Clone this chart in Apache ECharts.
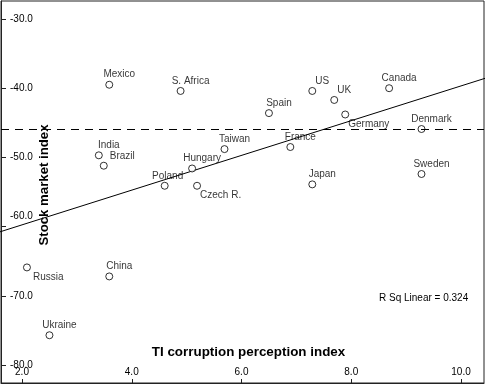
<!DOCTYPE html>
<html>
<head>
<meta charset="utf-8">
<script src="https://cdn.jsdelivr.net/npm/echarts@6/dist/echarts.min.js"></script>
<style>html,body{margin:0;padding:0;background:#fff}#c{width:485px;height:385px}</style>
</head>
<body>
<div id="c"></div>
<script>
const countries = ['Mexico','S. Africa','India','Brazil','Hungary','Poland','Czech R.','US','UK','Germany','Spain','Taiwan','France','Japan','Canada','Denmark','Sweden','Russia','China','Ukraine'];
const corruptionIndex = [3.59,4.89,3.40,3.49,5.10,4.60,5.19,7.29,7.69,7.89,6.50,5.69,6.89,7.29,8.69,9.28,9.28,2.09,3.59,2.50];
const stockIndex = [-39.5,-40.4,-49.7,-51.2,-51.6,-54.1,-54.1,-40.4,-41.7,-43.8,-43.6,-48.8,-48.5,-53.9,-40.0,-45.9,-52.4,-65.9,-67.2,-75.7];
const xTicks = [2,4,6,8,10];
const yTicks = [-80,-70,-60,-50,-40,-30];
const fitIntercept = -64.77;
const fitSlope = 2.51;
const fitXs = [0, 12];
const referenceY = -45.9;
const rSqText = 'R Sq Linear = 0.324';
const xTitle = 'TI corruption perception index';
const yTitle = 'Stock market index';

const FONT = '"Liberation Sans", Arial, sans-serif';
const labelPlace = {
  'Brazil': {align:'left', offset:[6,-9]},
  'Poland': {align:'center', offset:[3,-10]},
  'Czech R.': {align:'left', offset:[3,9]},
  'Germany': {align:'left', offset:[3,10]},
  'Russia': {align:'left', offset:[6,10]}
};

const points = countries.map((name, i) => {
  const p = labelPlace[name] || {align:'center', offset:[10,-10]};
  return {
    name: name,
    value: [corruptionIndex[i], stockIndex[i]],
    label: {align: p.align, offset: p.offset}
  };
});

const chart = echarts.init(document.getElementById('c'), null, {renderer:'canvas'});
const axisColor = '#222';
chart.setOption({
  animation: false,
  backgroundColor: '#fff',
  grid: {left:1, top:1, width:483, height:382, show:true, borderColor:axisColor, borderWidth:1, backgroundColor:'#fff'},
  xAxis: {
    type:'value', min:1.6173, max:10.419,
    axisLine:{show:true, lineStyle:{color:axisColor}},
    splitLine:{show:false},
    axisTick:{show:true, inside:true, length:4, customValues:xTicks, lineStyle:{color:axisColor}},
    axisLabel:{inside:true, margin:6, customValues:xTicks, color:'#000', fontFamily:FONT, fontSize:10, formatter:v=>v.toFixed(1)}
  },
  yAxis: {
    type:'value', min:-82.601, max:-27.399,
    axisLine:{show:true, lineStyle:{color:axisColor}},
    splitLine:{show:false},
    axisTick:{show:true, inside:true, length:5, customValues:yTicks, lineStyle:{color:axisColor}},
    axisLabel:{inside:true, margin:9, customValues:yTicks, color:'#000', fontFamily:FONT, fontSize:10,
      formatter:v=> v === -60 ? '{up|' + v.toFixed(1) + '}' : v.toFixed(1),
      rich:{up:{padding:[0,0,20,0], fontFamily:FONT, fontSize:10, color:'#000'}}}
  },
  series: [
    {
      type:'line', data: fitXs.map(x => [x, fitIntercept + fitSlope * x]),
      symbol:'none', clip:true, lineStyle:{color:'#000', width:1}, silent:true, z:2,
      markLine:{silent:true, symbol:['none','none'], label:{show:false},
        lineStyle:{color:'#000', width:1, type:[8,6]},
        data:[{yAxis: referenceY}]}
    },
    {
      type:'scatter', data: points, symbol:'circle', symbolSize:7,
      itemStyle:{color:'#fff', borderColor:'#000', borderWidth:1},
      label:{show:true, position:'inside', formatter:'{b}', color:'#000', fontFamily:FONT, fontSize:10, verticalAlign:'middle'},
      z:3
    }
  ],
  graphic: [
    {type:'text', left:379, top:293, style:{text:rSqText, fill:'#000', font:'10px ' + FONT}},
    {type:'text', x:248.5, y:352, style:{text:xTitle, fill:'#000', font:'bold 13.4px ' + FONT, textAlign:'center', textVerticalAlign:'middle'}},
    {type:'text', x:44, y:185, rotation:Math.PI/2, style:{text:yTitle, fill:'#000', font:'bold 13.2px ' + FONT, textAlign:'center', textVerticalAlign:'middle'}}
  ]
});
</script>
</body>
</html>
